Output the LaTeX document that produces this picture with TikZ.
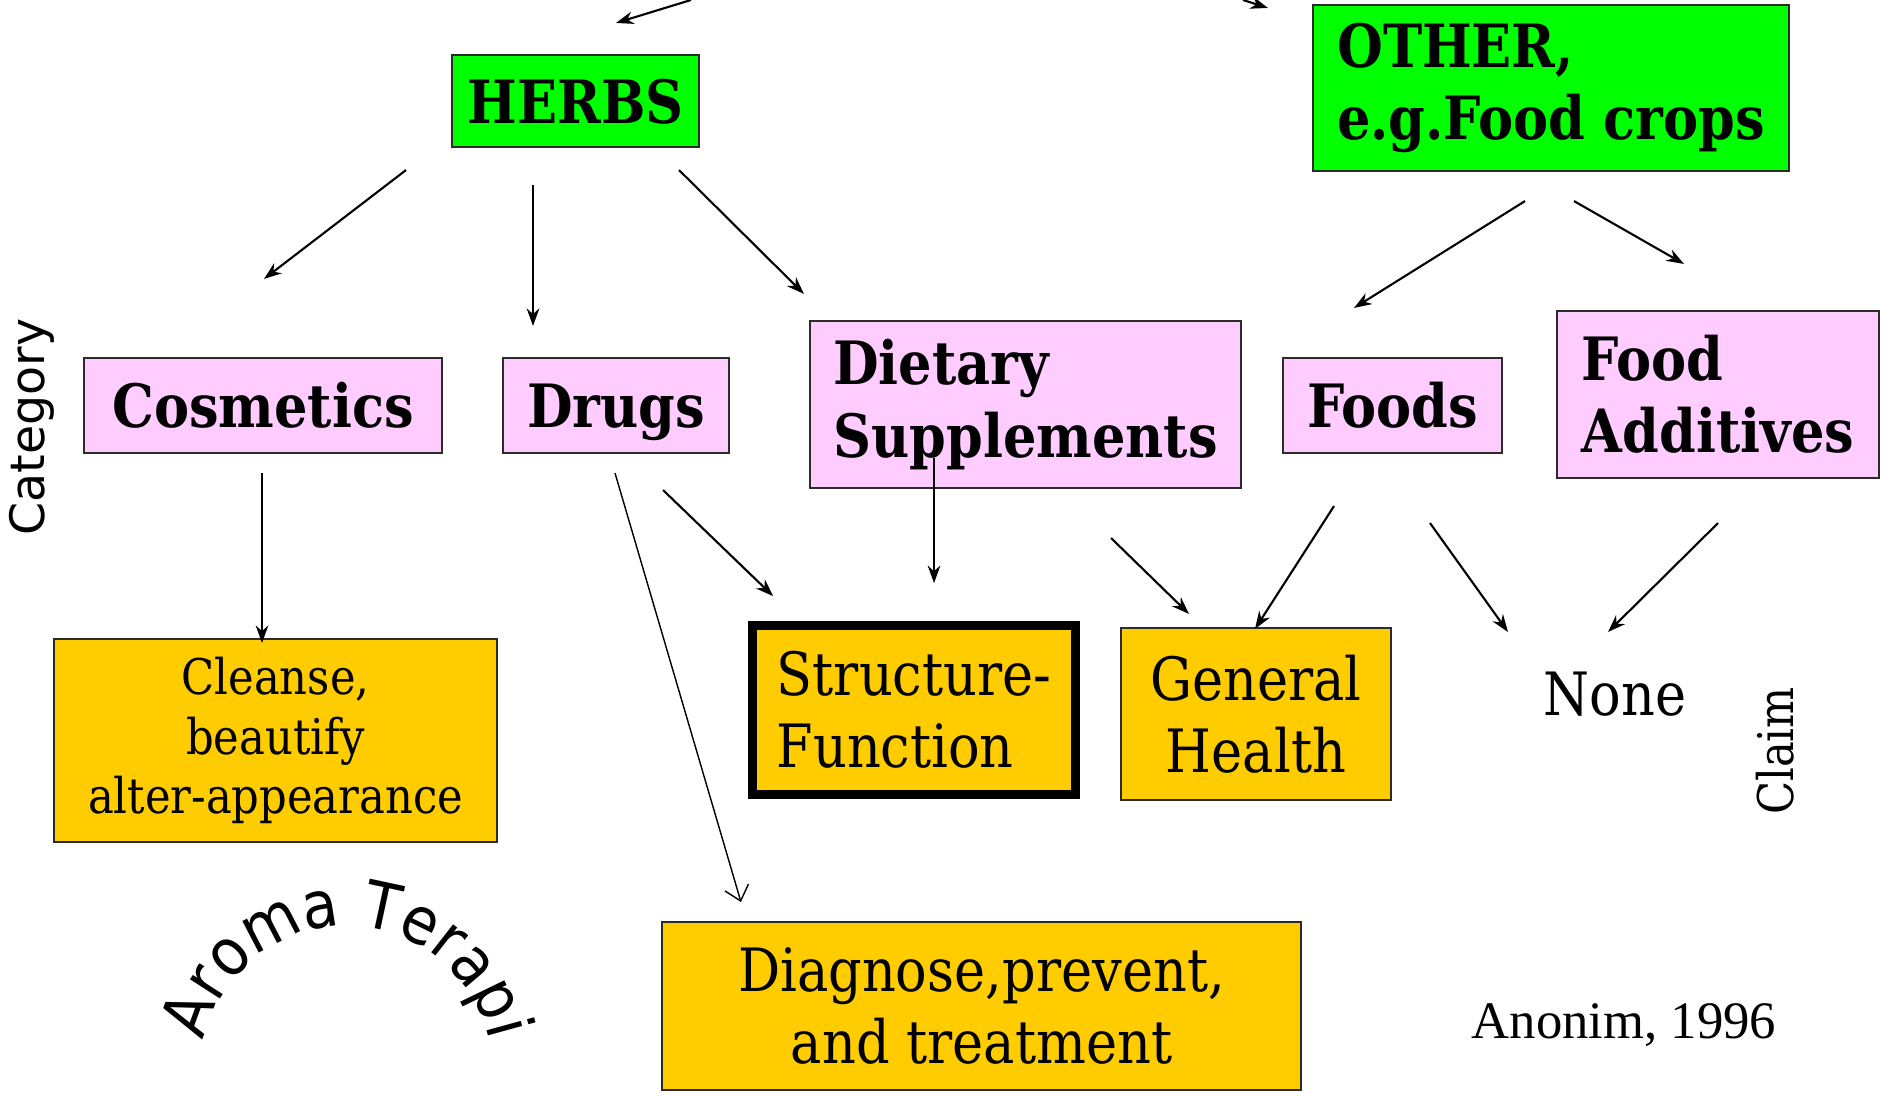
\documentclass[tikz,border=0pt]{standalone}
\usepackage{fontspec}
\usetikzlibrary{arrows.meta, calc, decorations.text}
\setmainfont{DejaVu Serif}
\newfontfamily\slabfont[FakeStretch=0.88]{DejaVu Serif}
\newfontfamily\gothfont{DejaVu Sans}
\newfontfamily\handfont[FakeStretch=0.9]{DejaVu Sans}
\newfontfamily\timesfont{Liberation Serif}
\definecolor{Lime} {HTML}{00FF00}
\definecolor{Rose} {HTML}{FFCCFF}
\definecolor{Amber}{HTML}{FFCC00}
\definecolor{Edge} {HTML}{2E2A26}
\tikzset{
  srcbox/.style={
    rectangle, draw=Edge, fill=Lime, text=black,
    font=\slabfont\bfseries\fontsize{17}{20.5}\selectfont, align=left,
    inner sep=3pt, line width=0.6pt,
  },
  catbox/.style={
    rectangle, draw=Edge, fill=Rose, text=black,
    font=\slabfont\bfseries\fontsize{17}{20.5}\selectfont, align=left,
    inner sep=3pt, line width=0.6pt,
  },
  oneline/.style={
    text height=12.6pt, text depth=0pt,
  },
  clmbox/.style={
    rectangle, draw=Edge, fill=Amber, text=black,
    font=\slabfont\fontsize{17}{20.5}\selectfont, align=center,
    inner sep=3pt, line width=0.6pt,
  },
  arr/.style={
    -{Stealth[length=5pt,width=3.6pt]},
    line width=0.6pt, color=black,
  },
  barb/.style={
    -{Straight Barb[length=4pt,width=7pt]},
    line width=0.4pt, color=black,
  },
  lbl/.style={
    text=black, inner sep=0pt,
  },
}
\begin{document}
\begin{tikzpicture}[x=0.1mm,y=-0.1mm]
  \fill[white] (0,0) rectangle (1884,1095);
  \useasboundingbox (0,0) rectangle (1884,1095);
  % sources
  \node[srcbox, oneline, minimum width=24.7mm, minimum height=9.2mm] (herbs) at (575.5,101) {HERBS};
  \node[srcbox, minimum width=47.6mm, minimum height=16.6mm] (other) at (1551,88)
        {OTHER,\\e.g.Food crops};
  \coordinate (topA) at (691,0);
  \coordinate (topB) at (1243,0);
  % categories
  \node[catbox, oneline, minimum width=35.8mm, minimum height=9.5mm] (cosm) at (263,405.5) {Cosmetics};
  \node[catbox, oneline, minimum width=22.6mm, minimum height=9.5mm] (drugs) at (616,405.5) {Drugs};
  \node[catbox, minimum width=43.1mm, minimum height=16.7mm] (diet) at (1025.5,404.5)
        {Dietary\\Supplements};
  \node[catbox, oneline, minimum width=21.9mm, minimum height=9.5mm] (foods) at (1392.5,405.5) {Foods};
  \node[catbox, minimum width=32.2mm, minimum height=16.7mm] (addit) at (1718,394.5)
        {Food\\Additives};
  \node[lbl, rotate=90, font=\gothfont\fontsize{13.5}{13.5}\selectfont] (category) at (32,427) {Category};
  % claims
  \node[clmbox, minimum width=44.3mm, minimum height=20.3mm,
        font=\slabfont\fontsize{14}{17}\selectfont] (cleanse) at (275.5,740.5)
        {Cleanse,\\beautify\\alter-appearance};
  \node[clmbox, align=left, line width=2.5pt, draw=black,
        minimum width=32.3mm, minimum height=16.9mm] (struct) at (914,710)
        {Structure-\\Function};
  \node[clmbox, minimum width=27.0mm, minimum height=17.2mm] (general) at (1256,714)
        {General\\Health};
  \node[lbl, font=\slabfont\fontsize{17}{20.5}\selectfont] (none) at (1615,694) {None};
  \node[clmbox, minimum width=63.9mm, minimum height=16.8mm] (diag) at (981.5,1006)
        {Diagnose,prevent,\\and treatment};
  \node[lbl, rotate=90, font=\slabfont\fontsize{14}{14}\selectfont] (claim) at (1775,751) {Claim};
  \node[lbl, font=\timesfont\fontsize{15}{15}\selectfont] (anonim) at (1624,1025) {Anonim, 1996};
  % curved label
  \coordinate (aroma) at (347,1072);
  \path[decorate, decoration={text along path, text align=center,
        text={|\handfont\fontsize{18.5}{18.5}\selectfont|Aroma Terapi}}]
        ([shift={(176:14.6mm)}]aroma) arc[start angle=176, end angle=4, radius=14.6mm];
  % connectors
  \draw[arr] (topA) -- ([shift={(40.5,-31)}]herbs.north);
  \draw[arr] (topB) -- ([shift={(-44,4)}]other.north west);
  \draw[arr] ([shift={(-169.5,22)}]herbs.south) -- ([shift={(1,-78)}]cosm.north);
  \draw[arr] ([shift={(-42.5,37)}]herbs.south) -- ([shift={(-83,-31)}]drugs.north);
  \draw[arr] ([shift={(103.5,22)}]herbs.south) -- ([shift={(-5,-26)}]diet.north west);
  \draw[arr] ([shift={(-26,29)}]other.south) -- ([shift={(-38.5,-49)}]foods.north);
  \draw[arr] ([shift={(23,29)}]other.south) -- ([shift={(-34,-46)}]addit.north);
  \draw[arr] ([shift={(-1,19)}]cosm.south) -- ([shift={(-13.5,5)}]cleanse.north);
  \draw[barb] ([shift={(-1,19)}]drugs.south) -- ([shift={(80,-19)}]diag.north west);
  \draw[arr] ([shift={(-67,36)}]drugs.south east) -- ([shift={(25,-25)}]struct.north west);
  \draw[arr] ([shift={(-91.5,-31)}]diet.south) -- ([shift={(20,-38)}]struct.north);
  \draw[arr] ([shift={(-131,49)}]diet.south east) -- ([shift={(-67,-13)}]general.north);
  \draw[arr] ([shift={(-58.5,52)}]foods.south) -- ([shift={(-1,2)}]general.north);
  \draw[arr] ([shift={(37.5,69)}]foods.south) -- ([shift={(-107,-62)}]none.center);
  \draw[arr] ([shift={(0,44)}]addit.south) -- ([shift={(-7,-62)}]none.center);
\end{tikzpicture}
\end{document}
